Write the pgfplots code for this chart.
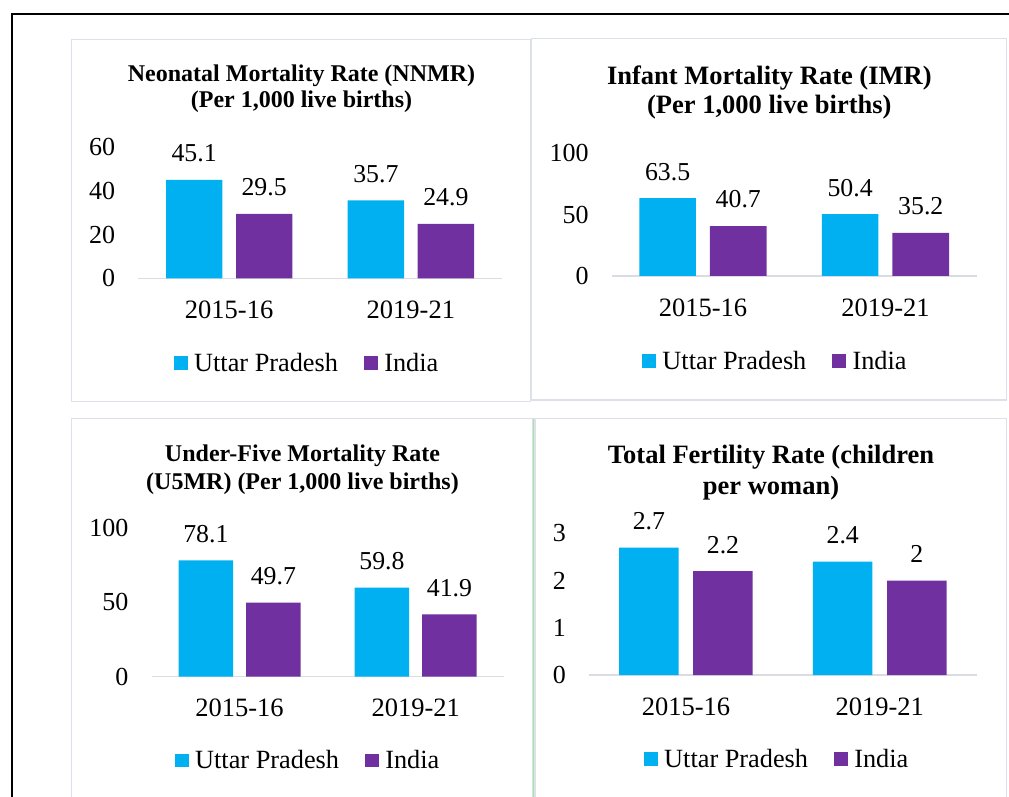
\documentclass[border=0pt]{standalone}
\usepackage{fontspec}
\setmainfont{Liberation Serif}
\usepackage{pgfplots}
\pgfplotsset{compat=1.18}
\definecolor{upc}{HTML}{00B0F0}
\definecolor{inc}{HTML}{7030A0}
\definecolor{framec}{HTML}{DCE0E8}
\definecolor{axc}{HTML}{D9DDE3}
\definecolor{grc}{HTML}{A6E3A6}

\pgfplotsset{
  sq/.style={legend image code/.code={\fill[##1] (0pt,-6.85pt) rectangle (13.7pt,6.85pt);}},
  panel/.style={
    scale only axis, anchor=south west,
    xmin=-0.5, xmax=1.5, ymin=0,
    xtick={0,1}, xticklabels={2015-16,2019-21},
    axis x line*=bottom, axis y line*=left,
    y axis line style={draw=none},
    x axis line style={draw=axc, line width=1.5pt},
    major tick length=0pt, tick style={draw=none},
    /pgf/number format/assume math mode=true,
    yticklabel style={anchor=east, inner sep=0pt, xshift=-23pt, font=\fontsize{26}{26}\selectfont},
    xticklabel style={anchor=north, inner sep=0pt, yshift=-22.4pt, font=\fontsize{26.5}{26.5}\selectfont},
    clip=false,
    nodes near coords,
    every node near coord/.append style={font=\fontsize{25.8}{26}\selectfont, inner sep=0pt, yshift=17.5pt, text=black},
    legend columns=2,
    legend style={draw=none, fill=none, inner sep=0pt, outer sep=0pt, anchor=west,
      font=\fontsize{26.3}{26.3}\selectfont, nodes={inner sep=0pt},
      /tikz/every odd column/.style={column sep=6.5pt},
      /tikz/every even column/.style={column sep=26pt}},
  },
}

\begin{document}
\begin{tikzpicture}
\path[use as bounding box] (0pt,0pt) rectangle (1009pt,796pt);

% outer border
\draw[black, line width=1.7pt] (12.3pt,-2pt) -- (12.3pt,781.8pt) -- (1011pt,781.8pt);

% panel frames
\draw[framec, line width=1.5pt] (71.7pt,756.7pt) rectangle (530.7pt,394.3pt);
\draw[framec, line width=1.5pt] (531.7pt,757.7pt) rectangle (1006.7pt,396pt);
\draw[framec, line width=1.5pt] (71.3pt,-2pt) -- (71.3pt,377.7pt) -- (533pt,377.7pt) -- (533pt,-2pt);
\draw[framec, line width=1.5pt] (535pt,-2pt) -- (535pt,377.7pt) -- (1006.7pt,377.7pt) -- (1006.7pt,-2pt);
\draw[grc, line width=1pt] (533.8pt,-2pt) -- (533.8pt,377pt);

% titles
\node[anchor=base, font=\bfseries\fontsize{24}{24}\selectfont] at (301.5pt,714.3pt) {Neonatal Mortality Rate (NNMR)};
\node[anchor=base, font=\bfseries\fontsize{24}{24}\selectfont] at (301.5pt,688.3pt) {(Per 1,000 live births)};
\node[anchor=base, font=\bfseries\fontsize{26.5}{26.5}\selectfont] at (769.3pt,711pt) {Infant Mortality Rate (IMR)};
\node[anchor=base, font=\bfseries\fontsize{26.5}{26.5}\selectfont] at (769.3pt,682pt) {(Per 1,000 live births)};
\node[anchor=base, font=\bfseries\fontsize{24}{24}\selectfont] at (302.5pt,334.3pt) {Under-Five Mortality Rate};
\node[anchor=base, font=\bfseries\fontsize{24}{24}\selectfont] at (302.5pt,306.7pt) {(U5MR) (Per 1,000 live births)};
\node[anchor=base, font=\bfseries\fontsize{26.5}{26.5}\selectfont] at (771pt,332pt) {Total Fertility Rate (children};
\node[anchor=base, font=\bfseries\fontsize{26.5}{26.5}\selectfont] at (771pt,301.7pt) {per woman)};

% Panel 1: NNMR
\begin{axis}[panel, at={(138.3pt,517.7pt)}, width=363.4pt, height=131pt,
  ybar=13.7pt, bar width=56.3pt, ymax=60, ytick={0,20,40,60}, yticklabels={0,20,40,60},
  legend style={at={(0.0982,-0.644)}}]
\addplot[fill=upc, draw=none, sq] coordinates {(0,45.1) (1,35.7)};
\addplot[fill=inc, draw=none, sq] coordinates {(0,29.5) (1,24.9)};
\legend{Uttar Pradesh, India}
\end{axis}

% Panel 2: IMR
\begin{axis}[panel, at={(611.7pt,520pt)}, width=365pt, height=122.7pt,
  ybar=14pt, bar width=56.7pt, ymax=100, ytick={0,50,100}, yticklabels={0,50,100},
  legend style={at={(0.0838,-0.693)}}]
\addplot[fill=upc, draw=none, sq] coordinates {(0,63.5) (1,50.4)};
\addplot[fill=inc, draw=none, sq] coordinates {(0,40.7) (1,35.2)};
\legend{Uttar Pradesh, India}
\end{axis}

% Panel 3: U5MR
\begin{axis}[panel, at={(151.5pt,119.3pt)}, width=352.3pt, height=149pt,
  ybar=13pt, bar width=54.5pt, ymax=100, ytick={0,50,100}, yticklabels={0,50,100},
  legend style={at={(0.0667,-0.562)}}]
\addplot[fill=upc, draw=none, sq] coordinates {(0,78.1) (1,59.8)};
\addplot[fill=inc, draw=none, sq] coordinates {(0,49.7) (1,41.9)};
\legend{Uttar Pradesh, India}
\end{axis}

% Panel 4: TFR
\begin{axis}[panel, at={(589pt,121pt)}, width=387.7pt, height=141.6pt,
  ybar=14.6pt, bar width=59.5pt, ymax=3, ytick={0,1,2,3}, yticklabels={0,1,2,3},
  legend style={at={(0.1419,-0.591)}}]
\addplot[fill=upc, draw=none, sq] coordinates {(0,2.7) (1,2.4)};
\addplot[fill=inc, draw=none, sq] coordinates {(0,2.2) (1,2)};
\legend{Uttar Pradesh, India}
\end{axis}
\end{tikzpicture}
\end{document}
